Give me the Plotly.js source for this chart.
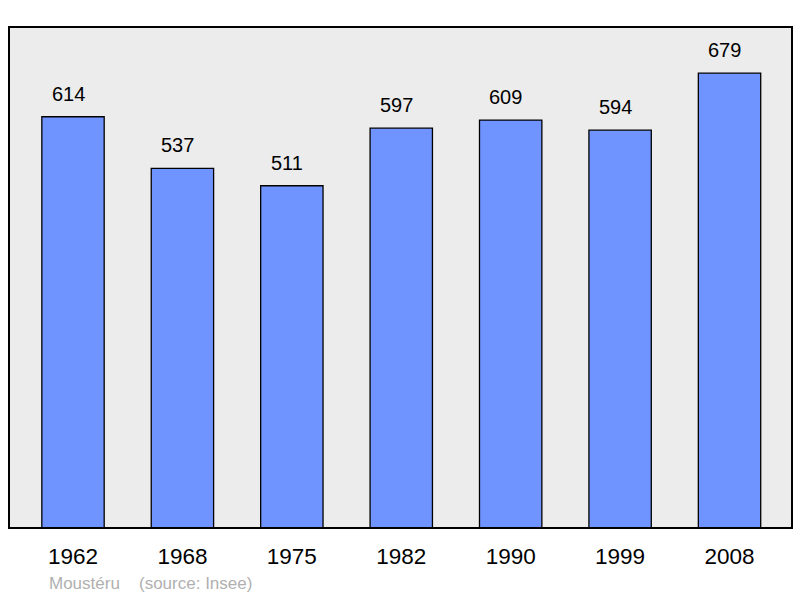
<!DOCTYPE html>
<html>
<head>
<meta charset="utf-8">
<script src="https://cdn.plot.ly/plotly-3.0.1.min.js"></script>
<style>
  body { margin: 0; background: #fff; }
  #myDiv { width: 800px; height: 598px; }
</style>
</head>
<body>
<div id="myDiv"></div>
<script>
var years = ['1962', '1968', '1975', '1982', '1990', '1999', '2008'];
var population = [614, 537, 511, 597, 609, 594, 679];
var commune = 'Moustéru';
var source = '(source: Insee)';

var trace1 = {
  x: years,
  y: population,
  type: 'bar',
  width: 0.57,
  marker: { color: '#7094ff', line: { color: '#000', width: 1.3 } },
  hoverinfo: 'x+y'
};

// value labels above each bar (x by category index, numeric-looking names confuse annotations)
var labels = years.map(function (yr, i) {
  return {
    x: i, y: population[i], xref: 'x', yref: 'y',
    text: String(population[i]), showarrow: false,
    yanchor: 'bottom', yshift: 10, xshift: -5,
    font: { family: 'Liberation Sans, Arial, sans-serif', size: 20, color: '#000' }
  };
});

labels.push({
  x: 0.048, y: -0.11, xref: 'paper', yref: 'paper', xanchor: 'left', yanchor: 'middle',
  text: commune, showarrow: false,
  font: { family: 'Liberation Sans, Arial, sans-serif', size: 17, color: '#b0b0b0' }
});
labels.push({
  x: 0.164, y: -0.11, xref: 'paper', yref: 'paper', xanchor: 'left', yanchor: 'middle',
  text: source, showarrow: false,
  font: { family: 'Liberation Sans, Arial, sans-serif', size: 17, color: '#b0b0b0' }
});

var layout = {
  width: 800,
  height: 598,
  margin: { l: 9, r: 8, t: 27, b: 70 },
  paper_bgcolor: '#fff',
  plot_bgcolor: '#ececec',
  showlegend: false,
  xaxis: {
    type: 'category',
    range: [-0.585, 6.571],
    showgrid: false, zeroline: false, showline: false,
    ticks: 'outside', ticklen: 8, tickcolor: 'rgba(0,0,0,0)',
    tickfont: { family: 'Liberation Sans, Arial, sans-serif', size: 22.5, color: '#000' }
  },
  yaxis: {
    range: [0, 748],
    showgrid: false, zeroline: false, showline: false,
    showticklabels: false, ticks: ''
  },
  shapes: [{
    type: 'rect', xref: 'paper', yref: 'paper',
    x0: 0, x1: 1, y0: 0, y1: 1,
    line: { color: '#000', width: 2 }
  }],
  annotations: labels
};

Plotly.newPlot('myDiv', [trace1], layout, { displayModeBar: false, staticPlot: true });
</script>
</body>
</html>
